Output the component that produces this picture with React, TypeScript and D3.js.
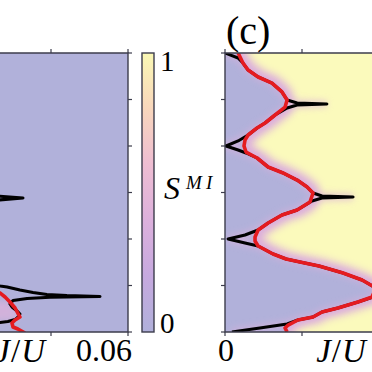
import React from "react"
import * as d3 from "d3"

// shared axes: mu/U vertically, J/U horizontally
const muTicks = [0, 0.5, 1, 1.5, 2, 2.5, 3]
const jTicks = [0, 0.03, 0.06]

// panel (b), only its right part is in view. points are [J/U, mu/U]
const leftBlackSpike = [
  [0.0082, 1.527], [0.0094, 1.462], [0.0191, 1.441], [0.0094, 1.419], [0.0082, 1.355],
]
const leftBlackLobe = [
  [0.0043, 0.559], [0.0101, 0.495], [0.0129, 0.484], [0.0179, 0.452], [0.023, 0.425],
  [0.0284, 0.403], [0.0362, 0.392], [0.0491, 0.382], [0.0362, 0.376], [0.0296, 0.374],
  [0.0207, 0.36], [0.0152, 0.339], [0.014, 0.301], [0.0148, 0.269], [0.0168, 0.226],
  [0.0179, 0.194], [0.0171, 0.161], [0.016, 0.134], [0.0132, 0.113], [0.0101, 0.102],
  [0.0043, 0.086],
]
const leftRed = [
  [0.0062, 0.495], [0.0101, 0.419], [0.0121, 0.376], [0.014, 0.323], [0.016, 0.258],
  [0.0179, 0.161], [0.016, 0.129], [0.0148, 0.097], [0.0152, 0.054], [0.0171, 0.032],
  [0.0199, -0.011],
]

// panel (c)
const rightRed = [
  [0.0051, 3.0], [0.007, 2.892], [0.009, 2.817], [0.0129, 2.742], [0.0183, 2.677],
  [0.0222, 2.581], [0.0242, 2.495], [0.0234, 2.419], [0.0195, 2.333], [0.0156, 2.247],
  [0.0125, 2.194], [0.009, 2.118], [0.0078, 2.065], [0.0074, 2.0], [0.0082, 1.935],
  [0.0125, 1.871], [0.0168, 1.774], [0.0226, 1.71], [0.0281, 1.634], [0.032, 1.559],
  [0.0343, 1.495], [0.0331, 1.398], [0.0281, 1.312], [0.0222, 1.258], [0.0168, 1.172],
  [0.0129, 1.097], [0.0117, 1.022], [0.0117, 0.978], [0.0129, 0.925], [0.0187, 0.839],
  [0.0238, 0.785], [0.0292, 0.753], [0.0366, 0.71], [0.046, 0.634], [0.0534, 0.559],
  [0.0588, 0.473], [0.0573, 0.376], [0.0518, 0.323], [0.044, 0.258], [0.0378, 0.215],
  [0.0343, 0.161], [0.0284, 0.129], [0.0246, 0.075], [0.0234, 0.043], [0.0242, 0.0],
]
const rightBlack = [
  [0, 3.0], [0.0051, 2.946], [0.007, 2.892], [0.009, 2.817], [0.0129, 2.742],
  [0.0183, 2.677], [0.0222, 2.581], [0.0242, 2.495], [0.0281, 2.462], [0.0397, 2.452],
  [0.0281, 2.441], [0.0242, 2.409], [0.0195, 2.333], [0.0156, 2.247], [0.0125, 2.194],
  [0.009, 2.118], [0.0051, 2.054], [0.0004, 2.0], [0.0051, 1.957], [0.0082, 1.925],
  [0.0125, 1.871], [0.0168, 1.774], [0.0226, 1.71], [0.0281, 1.634], [0.032, 1.559],
  [0.0343, 1.495], [0.0378, 1.462], [0.0499, 1.452], [0.0378, 1.441], [0.0339, 1.409],
  [0.0281, 1.312], [0.0222, 1.258], [0.0168, 1.172], [0.0129, 1.097], [0.0078, 1.043],
  [0.0012, 1.0], [0.0078, 0.957], [0.0129, 0.925], [0.0187, 0.839], [0.0238, 0.785],
  [0.0292, 0.753], [0.0366, 0.71], [0.046, 0.634], [0.0534, 0.559], [0.0588, 0.473],
  [0.0643, 0.441], [0.076, 0.43], [0.0643, 0.419], [0.0588, 0.387], [0.0518, 0.323],
  [0.044, 0.258], [0.0378, 0.215], [0.0343, 0.161], [0.0284, 0.129], [0.0242, 0.086],
  [0.0136, 0.043], [0.0027, 0.0],
]

// colorbar S^MI, from 0 (bottom) to 1 (top)
const cbarStops = ["#b0b0da", "#c6a9df", "#dcb0dc", "#eebdd2", "#f8d6bc", "#faf8b4"]

const PURPLE = "#b1b1da"
const YELLOW = "#fbfabc"
const RED = "#e51b20"
const FRAME = "#3c3c4c"
const FONT = "Liberation Serif, Times New Roman, serif"

const top = 53
const bottom = 332

export default function App() {
  const y = d3.scaleLinear().domain([0, 3]).range([bottom, top])
  const xL = d3.scaleLinear().domain([0, 0.06]).range([-26, 128])
  const xR = d3.scaleLinear().domain([0, 0.06]).range([225, 379])

  const lineL = d3.line<number[]>().x(d => xL(d[0])).y(d => y(d[1]))
  const lineR = d3.line<number[]>().x(d => xR(d[0])).y(d => y(d[1]))

  // yellow (superfluid) side of panel (c): everything right of the red boundary
  const first = rightRed[0]
  const last = rightRed[rightRed.length - 1]
  const sfRegion = [
    [0.3, 3.3], [first[0], 3.3], ...rightRed, [last[0], -0.3], [0.3, -0.3],
  ]
  // faint pink patch between J=0 and red line in panel (b)
  const patchL = [
    [0, 0.36], ...leftRed.filter(d => d[1] <= 0.36 && d[1] >= 0.11), [0, 0.11],
  ]

  const tickLen = 4

  return (
    <svg
      width={372}
      height={372}
      style={{ position: "absolute", left: 0, top: 0, background: "#fff" }}
    >
      <defs>
        <clipPath id="clipL">
          <rect x={xL(0)} y={top} width={xL(0.06) - xL(0)} height={bottom - top} />
        </clipPath>
        <clipPath id="clipR">
          <rect x={xR(0)} y={top} width={400} height={bottom - top} />
        </clipPath>
        <filter id="soft" filterUnits="userSpaceOnUse" x={-100} y={-100} width={1400} height={700}>
          <feGaussianBlur stdDeviation={1.5} />
        </filter>
        <filter id="halo" filterUnits="userSpaceOnUse" x={-100} y={-100} width={1400} height={700}>
          <feGaussianBlur stdDeviation={3} />
        </filter>
        <filter id="core" filterUnits="userSpaceOnUse" x={-100} y={-100} width={1400} height={700}>
          <feMorphology operator="erode" radius={6} />
          <feGaussianBlur stdDeviation={4.5} />
        </filter>
        <linearGradient id="cbar" x1="0" y1="1" x2="0" y2="0">
          {cbarStops.map((c, i) => (
            <stop key={i} offset={i / (cbarStops.length - 1)} stopColor={c} />
          ))}
        </linearGradient>
      </defs>

      {/* panel (b) */}
      <g clipPath="url(#clipL)">
        <rect x={xL(0)} y={top} width={xL(0.06) - xL(0)} height={bottom - top} fill={PURPLE} />
        <path d={d3.line()(patchL.map(d => [xL(d[0]), y(d[1])]) as any) + "Z"} fill="#d8b2dc" opacity={0.85} filter="url(#halo)" />
        <path d={lineL(leftBlackSpike)!} fill="none" stroke="#000" strokeWidth={3} strokeLinejoin="round" />
        <path d={lineL(leftBlackLobe)!} fill="none" stroke="#000" strokeWidth={3} strokeLinejoin="round" />
        <path d={lineL(leftRed)!} fill="none" stroke={RED} strokeWidth={3.6} strokeLinejoin="round" />
      </g>
      <path
        d={`M${xL(0)},${top}H${xL(0.06)}V${bottom}H${xL(0)}`}
        fill="none"
        stroke={FRAME}
        strokeWidth={1.4}
      />
      {jTicks.map(t => (
        <g key={"lt" + t} stroke={FRAME} strokeWidth={1.2}>
          <line x1={xL(t)} x2={xL(t)} y1={top} y2={top - tickLen} />
          <line x1={xL(t)} x2={xL(t)} y1={bottom} y2={bottom + tickLen} />
        </g>
      ))}
      {muTicks.map(t => (
        <line key={"lm" + t} x1={xL(0.06)} x2={xL(0.06) + tickLen} y1={y(t)} y2={y(t)} stroke={FRAME} strokeWidth={1.2} />
      ))}
      <text x={45} y={362} textAnchor="end" fontFamily={FONT} fontSize={33}>
        <tspan fontStyle="italic">J</tspan>
        <tspan dx={1}>/</tspan>
        <tspan fontStyle="italic" dx={1}>U</tspan>
      </text>
      <text x={104} y={361} textAnchor="middle" fontFamily={FONT} fontSize={32}>
        0.06
      </text>

      {/* colorbar */}
      <rect x={142} y={top} width={12} height={bottom - top} fill="url(#cbar)" stroke={FRAME} strokeWidth={1.4} />
      <text x={160} y={71} fontFamily={FONT} fontSize={29}>1</text>
      <text x={160} y={333} fontFamily={FONT} fontSize={29}>0</text>
      <text x={164} y={199} fontFamily={FONT} fontSize={32} fontStyle="italic">S</text>
      <text y={189} fontFamily={FONT} fontSize={19} fontStyle="italic">
        <tspan x={186}>M</tspan>
        <tspan x={206}>I</tspan>
      </text>

      {/* panel (c) */}
      <g clipPath="url(#clipR)">
        <rect x={xR(0)} y={top} width={400} height={bottom - top} fill={PURPLE} />
        <path d={lineR(sfRegion)! + "Z"} fill="#dcaedc" filter="url(#soft)" />
        <path d={lineR(sfRegion)! + "Z"} fill={YELLOW} filter="url(#core)" />
        <path d={lineR(rightBlack)!} fill="none" stroke="#dcb0dc" strokeWidth={7} opacity={0.6} filter="url(#halo)" />
        <path d={lineR(rightBlack)!} fill="none" stroke="#000" strokeWidth={3} strokeLinejoin="round" />
        <path d={lineR(rightRed)!} fill="none" stroke={RED} strokeWidth={3.6} strokeLinejoin="round" />
      </g>
      <path d={`M${xR(0.1)},${top}H${xR(0)}V${bottom}H${xR(0.1)}`} fill="none" stroke={FRAME} strokeWidth={1.4} />
      {jTicks.map(t => (
        <g key={"rt" + t} stroke={FRAME} strokeWidth={1.2}>
          <line x1={xR(t)} x2={xR(t)} y1={top} y2={top - tickLen} />
          <line x1={xR(t)} x2={xR(t)} y1={bottom} y2={bottom + tickLen} />
        </g>
      ))}
      {muTicks.map(t => (
        <line key={"rm" + t} x1={xR(0)} x2={xR(0) - tickLen} y1={y(t)} y2={y(t)} stroke={FRAME} strokeWidth={1.2} />
      ))}
      <text x={xR(0) + 1} y={361} textAnchor="middle" fontFamily={FONT} fontSize={32}>0</text>
      <text x={341} y={362} textAnchor="middle" fontFamily={FONT} fontSize={33}>
        <tspan fontStyle="italic">J</tspan>
        <tspan dx={1}>/</tspan>
        <tspan fontStyle="italic" dx={1}>U</tspan>
      </text>
      <text x={226} y={44} fontFamily={FONT} fontSize={40}>(c)</text>
    </svg>
  )
}
